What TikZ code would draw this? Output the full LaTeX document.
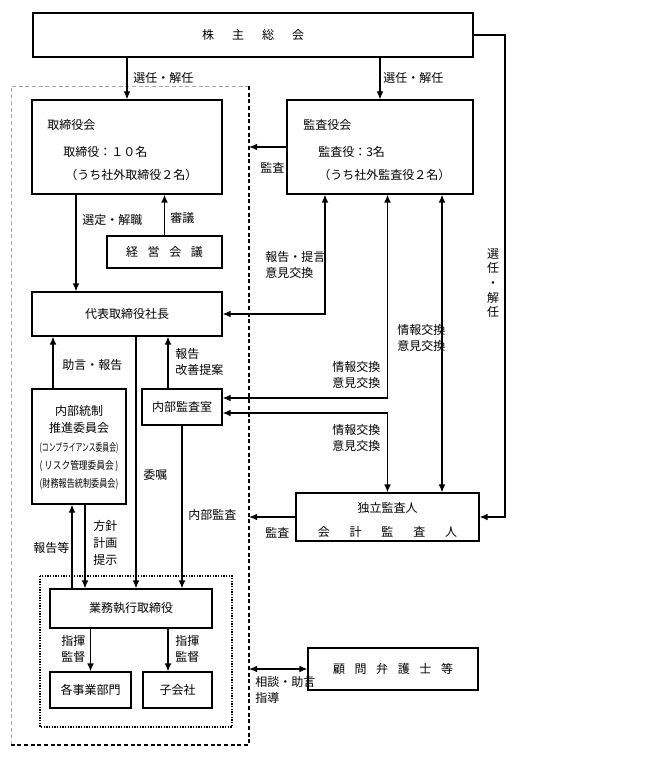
\documentclass[tikz,border=0pt]{standalone}
\usepackage{fontspec}
\usepackage{graphicx}
\setmainfont{Noto Sans CJK JP}
\usetikzlibrary{arrows.meta}

\tikzset{
    box/.style={draw, line width=0.9pt, inner sep=0pt, font=\fontsize{9}{11.5}\selectfont},
    sz/.style 2 args={minimum width=#1*0.75pt, minimum height=#2*0.75pt},
    lbl/.style={inner sep=0pt, align=left, font=\fontsize{9}{11.5}\selectfont},
    arr/.style={line width=0.9pt, -{Latex[length=6pt,width=5pt]}},
    arrtwo/.style={line width=0.9pt, {Latex[length=6pt,width=5pt]}-{Latex[length=6pt,width=5pt]}},
}

\begin{document}
\begin{tikzpicture}[x=0.75pt, y=-0.75pt]
    \useasboundingbox (0,0) rectangle (650,759);

    % the frame
    \coordinate (ftl) at (11,86);
    \coordinate (ftr) at (249,86);
    \coordinate (fbr) at (249,745);
    \coordinate (fbl) at (11,745);
    \draw[gray!70, line width=0.5pt, dash pattern=on 3pt off 2pt] (fbl) -- (ftl) -- (ftr);
    \draw[line width=1pt, dash pattern=on 3pt off 2pt] (ftr) -- (fbr) -- (fbl);
    \draw[line width=1pt, densely dotted] (40,576) rectangle (232,727);

    % the boxes
    \node[box, sz={440}{44}] (soukai) at (253,35) {株\hspace{1.5em}主\hspace{1.5em}総\hspace{1.5em}会};
    \node[box, sz={190}{94}] (board) at (127,147) {};
    \node[box, sz={186}{94}] (kansa) at (380,147) {};
    \node[box, sz={115}{32}] (keiei) at (164.5,252) {経\hspace{0.8em}営\hspace{0.8em}会\hspace{0.8em}議};
    \node[box, sz={190}{44}] (ceo) at (127,314) {代表取締役社長};
    \node[box, sz={94}{115}] (naibu) at (79,446.5) {};
    \node[box, sz={80}{36}] (audit) at (182,407) {内部監査室};
    \node[box, sz={183}{48}] (indep) at (387.5,517) {};
    \node[box, sz={162}{39}] (exec) at (131,608.5) {業務執行取締役};
    \node[box, sz={81}{36}] (dept) at (90.5,690) {各事業部門};
    \node[box, sz={69}{36}] (sub) at (177.5,690) {子会社};
    \node[box, sz={170}{42}] (lawyer) at (393,669) {顧\hspace{0.8em}問\hspace{0.8em}弁\hspace{0.8em}護\hspace{0.8em}士\hspace{0.8em}等};

    % texts in the boxes
    \node[lbl, anchor=west] (boardA) at (47,125) {取締役会};
    \node[lbl, anchor=west] (boardB) at (63,152) {取締役：１０名};
    \node[lbl, anchor=west] (boardC) at (65,175) {（うち社外取締役２名）};
    \node[lbl, anchor=west] (kansaA) at (303,125) {監査役会};
    \node[lbl, anchor=west] (kansaB) at (318,152) {監査役：3名};
    \node[lbl, anchor=west] (kansaC) at (318,175) {（うち社外監査役２名）};
    \node[lbl] (naibuA) at (79,411) {内部統制};
    \node[lbl] (naibuB) at (79,428) {推進委員会};
    \node[lbl, font=\fontsize{8}{10}\selectfont] (naibuC) at (79,448) {\resizebox{59pt}{\height}{(コンプライアンス委員会)}};
    \node[lbl, font=\fontsize{8}{10}\selectfont] (naibuD) at (79,466) {\resizebox{59pt}{\height}{(\,リスク管理委員会\,)}};
    \node[lbl, font=\fontsize{8}{10}\selectfont] (naibuE) at (79,484) {\resizebox{59pt}{\height}{(財務報告統制委員会)}};
    \node[lbl] (indepA) at (387.5,508) {独立監査人};
    \node[lbl] (indepB) at (387.5,532) {会\hspace{1.65em}計\hspace{1.65em}監\hspace{1.65em}査\hspace{1.65em}人};

    % columns of the connectors
    \coordinate (xa) at (76,0);
    \coordinate (xb) at (325,0);
    \coordinate (xd) at (442,0);
    \coordinate (xe) at (53,0);
    \coordinate (xf) at (136,0);
    \coordinate (xg) at (168,0);
    \coordinate (xh) at (72,0);
    \coordinate (xi) at (85,0);
    \coordinate (rt) at (505,35);

    % the connectors
    \draw[arr] (soukai.south -| board.north) -- (board.north);
    \draw[arr] (soukai.south -| kansa.north) -- (kansa.north);
    \draw[arr] (soukai.east) -- (rt) |- (indep.east);
    \draw[arr] (kansa.west) -- (kansa.west -| ftr);
    \draw[arr] (board.south -| xa) -- (ceo.north -| xa);
    \draw[arr] (keiei.north) -- (keiei.north |- board.south);
    \draw[arrtwo] (kansa.south -| xb) |- (ceo.east);
    \draw[arrtwo] (kansa.south -| indep.north) |- ([yshift=6.75pt]audit.east);
    \draw[arrtwo] ([yshift=-4.5pt]audit.east) -| (indep.north);
    \draw[arrtwo] (kansa.south -| xd) -- (indep.north -| xd);
    \draw[arr] (naibu.north -| xe) -- (ceo.south -| xe);
    \draw[arr] (ceo.south -| xf) -- (exec.north -| xf);
    \draw[arr] (audit.north -| xg) -- (ceo.south -| xg);
    \draw[arr] (audit.south) -- (audit.south |- exec.north);
    \draw[arr] (exec.north -| xh) -- (naibu.south -| xh);
    \draw[arr] (naibu.south -| xi) -- (exec.north -| xi);
    \draw[arr] (exec.south -| dept.north) -- (dept.north);
    \draw[arr] (exec.south -| xg) -- (sub.north -| xg);
    \draw[arr] (indep.west) -- (indep.west -| fbr);
    \draw[arrtwo] (lawyer.west -| fbr) -- (lawyer.west);

    % labels
    \node[lbl, anchor=west] (l1) at (133,78) {選任・解任};
    \node[lbl, anchor=west] (l2) at (383,78) {選任・解任};
    \node[lbl, anchor=west] (l3) at (260,168) {監査};
    \node[lbl, anchor=west] (l4) at (82,220) {選定・解職};
    \node[lbl, anchor=west] (l5) at (170,218) {審議};
    \node[lbl, anchor=west] (l6) at (265,265) {報告・提言\\意見交換};
    \node[lbl, anchor=west] (l7) at (397,338) {情報交換\\意見交換};
    \node[lbl, anchor=west] (l8) at (332,375) {情報交換\\意見交換};
    \node[lbl, anchor=west] (l9) at (332,438) {情報交換\\意見交換};
    \node[lbl, align=center, font=\fontsize{9}{11}\selectfont] (l10) at (493,283) {選\\任\\・\\解\\任};
    \node[lbl, anchor=west] (l11) at (62,365) {助言・報告};
    \node[lbl, anchor=west] (l12) at (175,362) {報告\\改善提案};
    \node[lbl, anchor=west] (l13) at (143,475) {委嘱};
    \node[lbl, anchor=west] (l14) at (188,515) {内部監査};
    \node[lbl, anchor=west] (l15) at (265,533) {監査};
    \node[lbl, anchor=west] (l16) at (33,548) {報告等};
    \node[lbl, anchor=west, font=\fontsize{9}{12.5}\selectfont] (l17) at (93,543) {方針\\計画\\提示};
    \node[lbl, anchor=west] (l18) at (61,649) {指揮\\監督};
    \node[lbl, anchor=west] (l19) at (175,649) {指揮\\監督};
    \node[lbl, anchor=west] (l20) at (255,690) {相談・助言\\指導};
\end{tikzpicture}
\end{document}
